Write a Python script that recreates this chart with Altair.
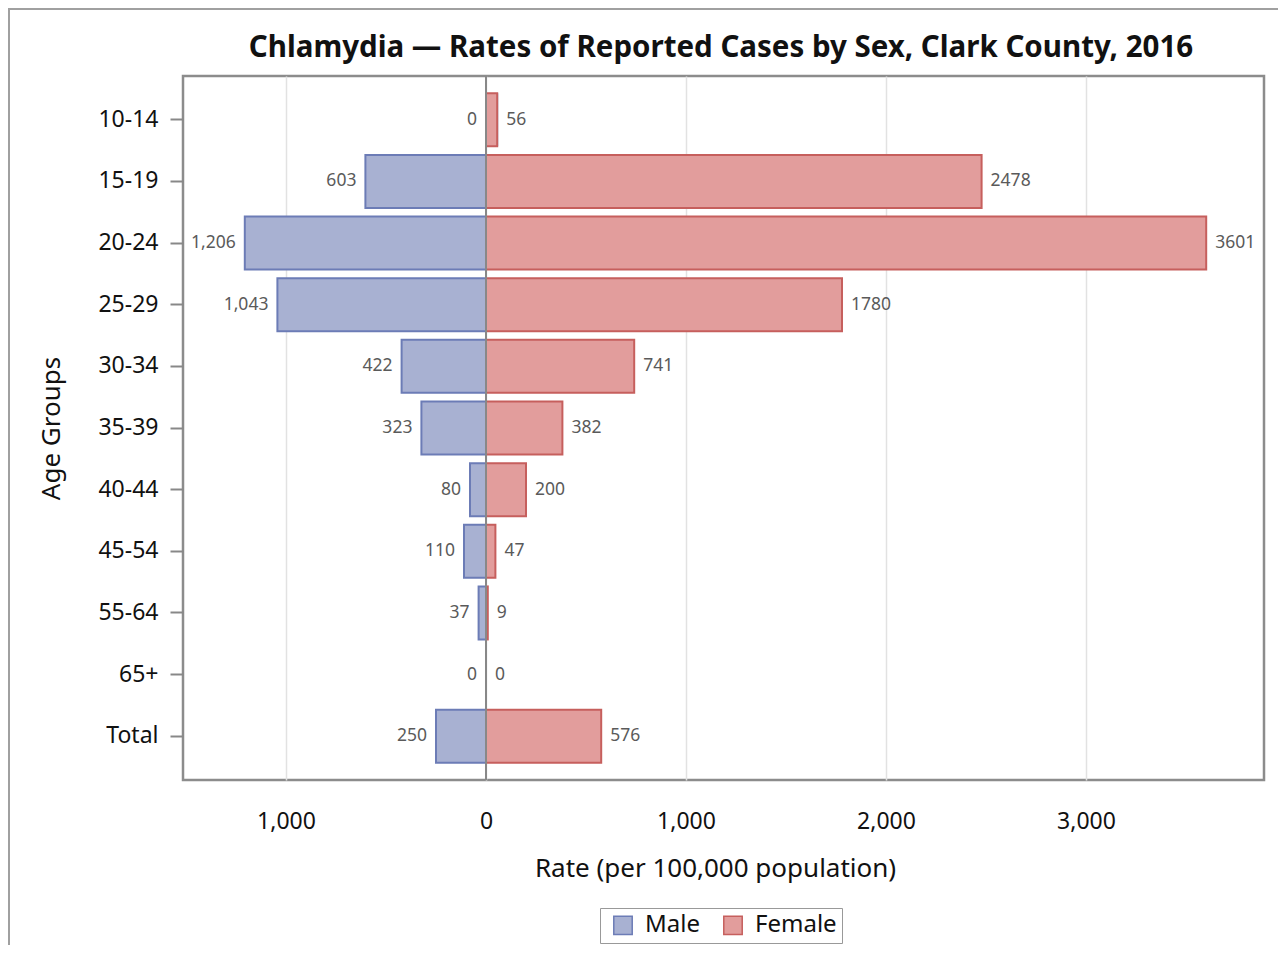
import altair as alt
import pandas as pd

age_groups = ["10-14", "15-19", "20-24", "25-29", "30-34", "35-39",
              "40-44", "45-54", "55-64", "65+", "Total"]
male_rates = [0, 603, 1206, 1043, 422, 323, 80, 110, 37, 0, 250]
female_rates = [56, 2478, 3601, 1780, 741, 382, 200, 47, 9, 0, 576]
title_text = "Chlamydia \u2014 Rates of Reported Cases by Sex, Clark County, 2016"

rows = []
for g, m, f in zip(age_groups, male_rates, female_rates):
    rows.append({"age": g, "sex": "Male", "value": -m, "label": f"{m:,}", "side": "L"})
    rows.append({"age": g, "sex": "Female", "value": f, "label": str(f), "side": "R"})
df = pd.DataFrame(rows)

FONT = "Noto Sans"
W, H = 1081, 704

color_scale = alt.Scale(domain=["Male", "Female"], range=["#a8b1d2", "#e29d9c"])
stroke_scale = alt.Scale(domain=["Male", "Female"], range=["#6c7cb6", "#c65f5d"])
xscale = alt.Scale(domain=[-1515, 3890], nice=False, zero=False)
yscale = alt.Scale(domain=age_groups, paddingInner=0.14, paddingOuter=0.28)

legend = alt.Legend(title=None, orient="none", legendX=417, legendY=832,
                    direction="horizontal", symbolType="square",
                    symbolSize=340, symbolStrokeWidth=1.5,
                    labelFontSize=24, labelColor="#111", labelOffset=10,
                    strokeColor="#999", padding=5, columnPadding=15,
                    symbolOffset=6)

base = alt.Chart(df)

bars = base.mark_bar(strokeWidth=2).encode(
    x=alt.X("value:Q", scale=xscale,
            axis=alt.Axis(values=[-1000, 0, 1000, 2000, 3000],
                          labelExpr="format(abs(datum.value), ',')",
                          title="Rate (per 100,000 population)",
                          grid=True, gridColor="#e2e2e2", gridWidth=1.5,
                          ticks=False, domain=False,
                          labelFontSize=23, labelPadding=30, labelColor="#111",
                          titleFontSize=26, titleFontWeight="normal", titlePadding=22,
                          titleColor="#111", titleX=532)),
    y=alt.Y("age:N", scale=yscale, sort=age_groups,
            axis=alt.Axis(title="Age Groups", domain=False, ticks=True,
                          tickColor="#888", tickSize=13, tickWidth=2,
                          labelFontSize=23, labelPadding=12, labelColor="#111",
                          titleFontSize=26, titleFontWeight="normal", titlePadding=33,
                          titleColor="#111", grid=False)),
    fill=alt.Fill("sex:N", scale=color_scale, sort=["Male", "Female"], legend=legend),
    stroke=alt.Stroke("sex:N", scale=stroke_scale, sort=["Male", "Female"], legend=legend),
)

left_text = base.transform_filter("datum.side == 'L'").mark_text(
    align="right", baseline="middle", dx=-9, fontSize=17.5, color="#5a5a5a", font=FONT
).encode(x=alt.X("value:Q", scale=xscale), y=alt.Y("age:N", scale=yscale, sort=age_groups),
         text="label:N")

right_text = base.transform_filter("datum.side == 'R'").mark_text(
    align="left", baseline="middle", dx=9, fontSize=17.5, color="#5a5a5a", font=FONT
).encode(x=alt.X("value:Q", scale=xscale), y=alt.Y("age:N", scale=yscale, sort=age_groups),
         text="label:N")

zero = base.mark_rule(color="#888", strokeWidth=2).encode(x=alt.datum(0))

frame = base.mark_rect(fill=None, stroke="#a0a0a0", strokeWidth=2, clip=False).encode(
    x=alt.value(-174), x2=alt.value(1104), y=alt.value(-67), y2=alt.value(900))

title = alt.Chart(pd.DataFrame({"t": [title_text]})).mark_text(
    font=FONT, fontSize=29.5, fontWeight="bold", color="#111", align="center",
    baseline="middle", clip=False
).encode(x=alt.value(538), y=alt.value(-28), text="t:N")

chart = alt.layer(frame, bars, zero, left_text, right_text, title).properties(
    width=W, height=H,
    autosize=alt.AutoSizeParams(type="none"),
    padding={"left": 175, "top": 68, "right": 14, "bottom": 165},
).configure(font=FONT).configure_view(stroke="#8c8c8c", strokeWidth=2.5)

chart.save("out.html", embed_options={"renderer": "svg", "actions": False})
